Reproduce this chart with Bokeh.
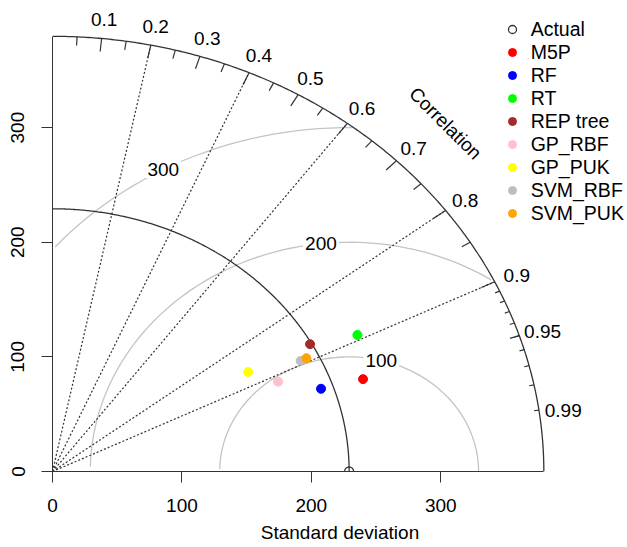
import numpy as np
from bokeh.plotting import figure
from bokeh.models import Legend, LegendItem, FixedTicker, Range1d
from bokeh.embed import file_html
from bokeh.resources import INLINE
from bokeh.core.properties import value

# ---------------- data ----------------
ref_name = "Actual"
ref_sd = 229.2
model_names = ["M5P", "RF", "RT", "REP tree", "GP_RBF", "GP_PUK", "SVM_RBF", "SVM_PUK"]
model_sd = [253.1, 219.7, 264.0, 227.9, 191.1, 174.3, 214.7, 219.7]
model_corr = [0.948, 0.9445, 0.8924, 0.8732, 0.912, 0.867, 0.8933, 0.893]
model_colors = ["#FF0000", "#0000FF", "#00FF00", "#A52A2A", "#FFC0CB", "#FFFF00", "#BEBEBE", "#FFA500"]
gamma_levels = [100, 200, 300]
corr_lines = [0.2, 0.4, 0.6, 0.8, 0.9]
corr_tick_labels = ["0.1", "0.2", "0.3", "0.4", "0.5", "0.6", "0.7", "0.8", "0.9", "0.95", "0.99"]
sd_ticks = [0, 100, 200, 300]
x_title = "Standard deviation"
arc_title = "Correlation"

FONT = "Liberation Sans"
FS = "19px"
DARK = "#333333"

maxsd = 1.5 * model_sd[0]

p = figure(width=627, height=547, output_backend="svg", toolbar_location=None,
           x_range=Range1d(0, 444.3), y_range=Range1d(0, 410.9),
           min_border_left=52, min_border_right=0, min_border_top=0, min_border_bottom=76)
p.outline_line_color = None
p.grid.visible = False
p.background_fill_color = "white"
p.border_fill_color = "white"

for ax in (p.xaxis[0], p.yaxis[0]):
    ax.ticker = FixedTicker(ticks=sd_ticks)
    ax.bounds = (0, maxsd)
    ax.major_tick_out = 11
    ax.major_tick_in = 0
    ax.minor_tick_out = 0
    ax.minor_tick_in = 0
    ax.axis_line_color = DARK
    ax.major_tick_line_color = DARK
    ax.major_label_text_font = FONT
    ax.major_label_text_font_size = FS
    ax.major_label_text_color = "black"
p.xaxis.major_label_standoff = 16
p.yaxis.major_label_standoff = 17
p.yaxis.major_label_orientation = "vertical"
p.xaxis.axis_label = x_title
p.xaxis.axis_label_text_font = FONT
p.xaxis.axis_label_text_font_size = FS
p.xaxis.axis_label_text_font_style = "normal"
p.xaxis.axis_label_text_color = "black"
p.xaxis.axis_label_standoff = 7

# gamma (centred RMS) contours
theta = np.arange(0, np.pi, 0.03)
label_idx = [44, 56, 69]
for g, li in zip(gamma_levels, label_idx):
    xc = np.cos(theta) * g + ref_sd
    yc = np.sin(theta) * g
    neg = np.where(xc < 0)[0]
    end = neg.min() if len(neg) else len(xc)
    out = np.where(xc * xc + yc * yc > maxsd * maxsd)[0]
    start = out.max() + 1 if len(out) else 0
    p.line(xc[start:end], yc[start:end], line_color="#C4C4C4", line_width=1.3)
    p.text(x=[xc[li]], y=[yc[li]], text=[str(g)], text_font=value(FONT), text_font_size=FS,
           text_align="center", text_baseline="middle", text_color="black",
           background_fill_color="white", padding=2)

# arcs
arc_t = np.linspace(0, np.pi / 2, 300)
p.line(maxsd * np.cos(arc_t), maxsd * np.sin(arc_t), line_color=DARK, line_width=1.3)
p.line(ref_sd * np.cos(arc_t), ref_sd * np.sin(arc_t), line_color=DARK, line_width=1.3)

# correlation lines
cl = np.array(corr_lines)
p.segment(x0=np.zeros_like(cl), y0=np.zeros_like(cl), x1=maxsd * cl, y1=maxsd * np.sqrt(1 - cl ** 2),
          line_color=DARK, line_dash="2 2", line_width=1.2)

# ticks on the correlation arc
for vals, frac in ((np.arange(0.1, 0.91, 0.1), 0.97), (np.arange(0.05, 0.96, 0.1), 0.98),
                   (np.arange(0.91, 0.995, 0.01), 0.99)):
    s = np.sqrt(1 - vals ** 2)
    p.segment(x0=maxsd * vals, y0=maxsd * s, x1=frac * maxsd * vals, y1=frac * maxsd * s,
              line_color=DARK, line_width=1.2)

lab_vals = np.array([float(t) for t in corr_tick_labels])
p.text(x=1.05 * maxsd * lab_vals, y=1.05 * maxsd * np.sqrt(1 - lab_vals ** 2), text=corr_tick_labels,
       text_font=value(FONT), text_font_size=FS, text_align="center", text_baseline="middle",
       text_color="black", y_offset=3)
p.text(x=[0.8 * maxsd], y=[0.8 * maxsd], text=[arc_title], angle=-np.pi / 4,
       text_font=value(FONT), text_font_size=FS, text_align="center", text_baseline="middle",
       text_color="black")

# points
items = []
r_ref = p.scatter(x=[ref_sd], y=[0], size=9, marker="circle", fill_color=None, line_color=DARK, line_width=1.3)
items.append(LegendItem(label=ref_name, renderers=[r_ref]))
for name, sd, c, col in zip(model_names, model_sd, model_corr, model_colors):
    r = p.scatter(x=[sd * c], y=[sd * np.sqrt(1 - c ** 2)], size=9, marker="circle",
                  fill_color=col, line_color=col)
    items.append(LegendItem(label=name, renderers=[r]))

legend = Legend(items=items, location=(449.7, 246.4), padding=0, margin=0, spacing=0,
                glyph_width=20, glyph_height=22, label_height=22, label_standoff=9,
                label_text_font=FONT, label_text_font_size="19.5px", label_text_color="black",
                border_line_color=None, background_fill_alpha=0)
p.add_layout(legend)

open("out.html", "w").write(file_html(p, INLINE))
